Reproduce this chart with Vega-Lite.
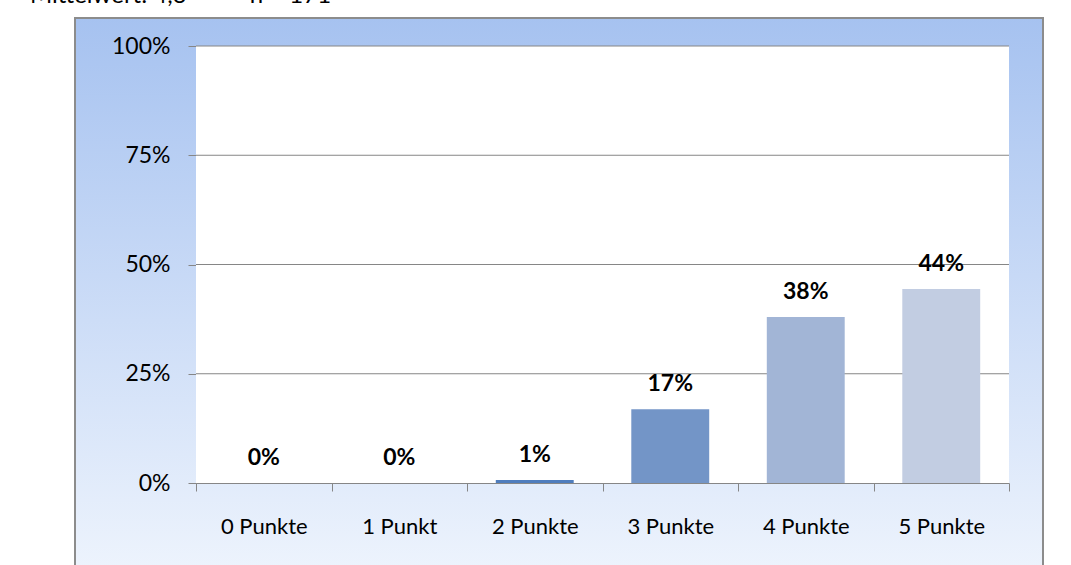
{
  "$schema": "https://vega.github.io/schema/vega-lite/v6.json",
  "autosize": "none",
  "width": 968,
  "height": 560,
  "padding": {"left": 75, "top": 18, "right": 28, "bottom": 0},
  "background": "white",
  "title": {
    "text": "Mittelwert: 4,3\u00a0\u00a0\u00a0\u00a0–\u00a0\u00a0\u00a0\u00a0n = 171",
    "anchor": "start",
    "frame": "group",
    "baseline": "alphabetic",
    "offset": -9,
    "dx": -45,
    "font": "Lato",
    "fontSize": 24,
    "fontWeight": "normal",
    "color": "black"
  },
  "config": {
    "view": {
      "stroke": "#8c8c8c",
      "strokeWidth": 2,
      "fill": {
        "gradient": "linear",
        "x1": 0, "y1": 0, "x2": 0, "y2": 1,
        "stops": [
          {"offset": 0, "color": "#a6c2f0"},
          {"offset": 1, "color": "#eef4fd"}
        ]
      }
    },
    "font": "Lato"
  },
  "data": {
    "values": [
      {"kategorie": "0 Punkte", "anteil": 0.0},
      {"kategorie": "1 Punkt", "anteil": 0.0},
      {"kategorie": "2 Punkte", "anteil": 0.007},
      {"kategorie": "3 Punkte", "anteil": 0.169},
      {"kategorie": "4 Punkte", "anteil": 0.38},
      {"kategorie": "5 Punkte", "anteil": 0.444}
    ]
  },
  "resolve": {"scale": {"x": "independent"}},
  "layer": [
    {
      "mark": {"type": "rect", "fill": "white"},
      "encoding": {
        "x": {"datum": 0, "type": "quantitative", "scale": {"domain": [0, 1], "range": [121, 934], "nice": false, "zero": false}, "axis": null},
        "x2": {"datum": 1},
        "y": {
          "datum": 0, "type": "quantitative",
          "scale": {"domain": [0, 1], "range": [465, 28], "nice": false, "zero": false},
          "axis": {
            "title": null, "offset": -121, "values": [0, 0.25, 0.5, 0.75, 1], "format": ".0%",
            "grid": false, "tickSize": 8, "tickColor": "#868686", "domainColor": "#868686",
            "labelFont": "Lato", "labelFontSize": 23, "labelColor": "black", "labelPadding": 18
          }
        },
        "y2": {"datum": 1}
      }
    },
    {
      "data": {"values": [{"g": 0.25}, {"g": 0.5}, {"g": 0.75}, {"g": 1.0}]},
      "mark": {"type": "rule", "color": "#868686", "strokeWidth": 1},
      "encoding": {
        "x": {"datum": 0, "type": "quantitative", "scale": {"domain": [0, 1], "range": [121, 934], "nice": false, "zero": false}, "axis": null},
        "x2": {"datum": 1},
        "y": {"field": "g", "type": "quantitative"}
      }
    },
    {
      "mark": {"type": "bar", "width": {"band": 0.575}},
      "encoding": {
        "x": {
          "field": "kategorie", "type": "nominal", "sort": null,
          "scale": {"range": [121, 934], "paddingInner": 0, "paddingOuter": 0},
          "axis": {
            "title": null, "orient": "bottom", "offset": -95, "labelAngle": 0,
            "tickBand": "extent", "tickSize": 8, "tickColor": "#868686", "domainColor": "#868686",
            "labelFont": "Lato", "labelFontSize": 22, "labelColor": "black", "labelPadding": 25
          }
        },
        "y": {"field": "anteil", "type": "quantitative"},
        "color": {
          "field": "kategorie", "type": "nominal", "sort": null, "legend": null,
          "scale": {
            "domain": ["0 Punkte", "1 Punkt", "2 Punkte", "3 Punkte", "4 Punkte", "5 Punkte"],
            "range": ["#2c5d9c", "#3b6cad", "#4f7dbd", "#7395c7", "#a2b5d6", "#c2cde2"]
          }
        }
      }
    },
    {
      "mark": {"type": "text", "fontWeight": "bold", "fontSize": 23, "font": "Lato", "color": "black", "baseline": "alphabetic", "dy": -18},
      "encoding": {
        "x": {"field": "kategorie", "type": "nominal", "sort": null, "scale": {"range": [121, 934], "paddingInner": 0, "paddingOuter": 0}, "axis": null},
        "y": {"field": "anteil", "type": "quantitative"},
        "text": {"field": "anteil", "type": "quantitative", "format": ".0%"}
      }
    }
  ]
}
